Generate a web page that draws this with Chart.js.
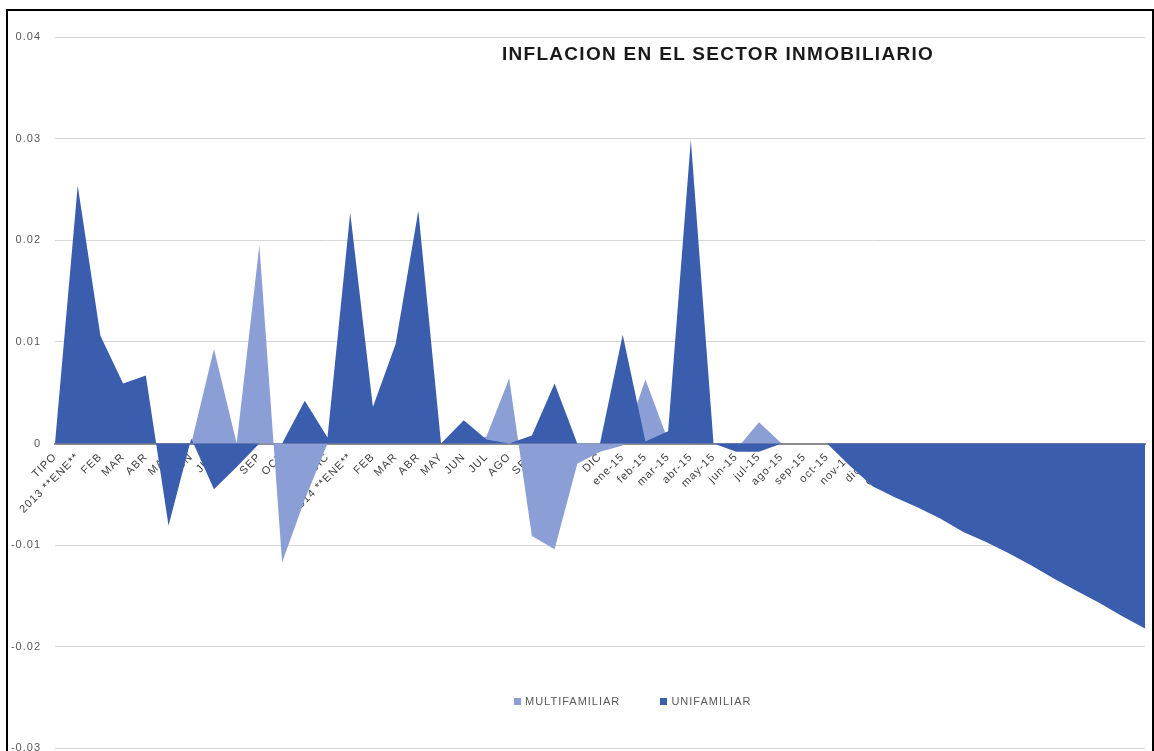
<!DOCTYPE html>
<html>
<head>
<meta charset="utf-8">
<script src="https://cdn.jsdelivr.net/npm/chart.js@4/dist/chart.umd.min.js"></script>
<style>
  html, body { margin: 0; padding: 0; background: #fff; overflow: hidden; width: 1154px; height: 751px; }
  #wrap { position: relative; width: 1154px; height: 769px; }
  #c { position: absolute; left: 0; top: 0; }
  #frame { position: absolute; left: 6px; top: 9px; width: 1144px; height: 760px;
           border-left: 2px solid #000; border-top: 2px solid #000; border-right: 2px solid #000;
           pointer-events: none; }
  #title { position: absolute; left: 368px; width: 700px; top: 43px; text-align: center;
           font-family: "Liberation Sans", Arial, sans-serif; font-weight: bold; font-size: 19px;
           letter-spacing: 1.3px; color: #1a1a1a; }
  #legend { position: absolute; top: 695px; left: 514px; font-family: "Liberation Sans", Arial, sans-serif;
            font-size: 11px; letter-spacing: 1px; color: #595959; white-space: nowrap; }
  #legend span.item { display: inline-block; }
  #legend i { display: inline-block; width: 7px; height: 7px; margin-right: 4px; vertical-align: 0px; }
</style>
</head>
<body>
<div id="wrap">
  <canvas id="c" width="1154" height="769"></canvas>
  <div id="frame"></div>
  <div id="title">INFLACION EN EL SECTOR INMOBILIARIO</div>
  <div id="legend">
    <span class="item" style="margin-right:36px"><i style="background:#8C9ED6"></i>MULTIFAMILIAR</span>
    <span class="item"><i style="background:#3A5DAE"></i>UNIFAMILIAR</span>
  </div>
</div>
<script>
const categories = ["TIPO","2013 **ENE**","FEB","MAR","ABR","MAY","JUN","JUL","AGO","SEP","OCT","NOV","DIC",
  "2014 **ENE**","FEB","MAR","ABR","MAY","JUN","JUL","AGO","SEP","OCT","NOV","DIC",
  "ene-15","feb-15","mar-15","abr-15","may-15","jun-15","jul-15","ago-15","sep-15","oct-15","nov-15","dic-15",
  "ene-16","feb-16","mar-16","abr-16","may-16","jun-16","jul-16","ago-16","sep-16","oct-16","nov-16","dic-16"];

const multifamiliar = [0, 0, 0, 0, 0, 0, 0, 0.0093, 0, 0.0195, -0.0117, -0.0055, 0,
  0, 0, 0, 0, 0, 0, 0.0007, 0.0064, -0.0091, -0.0104, -0.0020, -0.0008,
  -0.0002, 0.0063, 0.0003, 0, 0, -0.0006, 0.0021, 0, 0, 0, 0, 0,
  0, 0, 0, 0, 0, 0, 0, 0, 0, 0, 0, 0];

const unifamiliar = [0, 0.0254, 0.0106, 0.0059, 0.0067, -0.0081, 0.0005, -0.0045, -0.0023, 0, 0, 0.0042, 0.0006,
  0.0227, 0.0036, 0.0098, 0.0229, 0, 0.0023, 0.0004, 0, 0.0008, 0.0059, 0, 0,
  0.0107, 0.0002, 0.0012, 0.0299, 0, -0.0008, -0.0008, 0, 0, 0, -0.0022, -0.0042,
  -0.0053, -0.0063, -0.0074, -0.0087, -0.0097, -0.0108, -0.0120, -0.0133, -0.0145, -0.0157, -0.0170, -0.0182];

const yTicks = [0.04, 0.03, 0.02, 0.01, 0, -0.01, -0.02, -0.03];

const spacing = {
  id: 'spacing',
  beforeInit(chart) { chart.ctx.letterSpacing = '1px'; },
  beforeDraw(chart) { chart.ctx.letterSpacing = '1px'; }
};

new Chart(document.getElementById('c'), {
  type: 'line',
  data: {
    labels: categories,
    datasets: [
      { label: 'MULTIFAMILIAR', data: multifamiliar, backgroundColor: '#8C9ED6', borderWidth: 0,
        fill: 'origin', pointRadius: 0, tension: 0, order: 2 },
      { label: 'UNIFAMILIAR', data: unifamiliar, backgroundColor: '#3A5DAE', borderWidth: 0,
        fill: 'origin', pointRadius: 0, tension: 0, order: 1 }
    ]
  },
  plugins: [spacing],
  options: {
    responsive: false,
    animation: false,
    layout: { padding: { left: 0, top: 37, right: 9, bottom: 13 } },
    plugins: { legend: { display: false }, title: { display: false }, tooltip: { enabled: false } },
    scales: {
      x: {
        position: { y: 0 },
        offset: false,
        z: 1,
        afterFit: (s) => { s.paddingLeft = 0; s.paddingRight = 0; },
        grid: { display: false, drawTicks: false },
        border: { display: true, color: '#8c8c8c', width: 2 },
        ticks: { autoSkip: false, maxRotation: 45, minRotation: 45, padding: 7,
                 color: '#404040', font: { family: '"Liberation Sans", Arial, sans-serif', size: 11 } }
      },
      y: {
        min: -0.03, max: 0.04,
        afterFit: (s) => { s.width = 55; },
        afterBuildTicks: (s) => { s.ticks = yTicks.map(v => ({ value: v })); },
        grid: { color: '#d6d6d6', lineWidth: 1, drawTicks: false },
        border: { display: false },
        ticks: { padding: 14, color: '#595959',
                 font: { family: '"Liberation Sans", Arial, sans-serif', size: 11 },
                 callback: (v) => String(Math.round(v * 100) / 100) }
      }
    }
  }
});
</script>
</body>
</html>
